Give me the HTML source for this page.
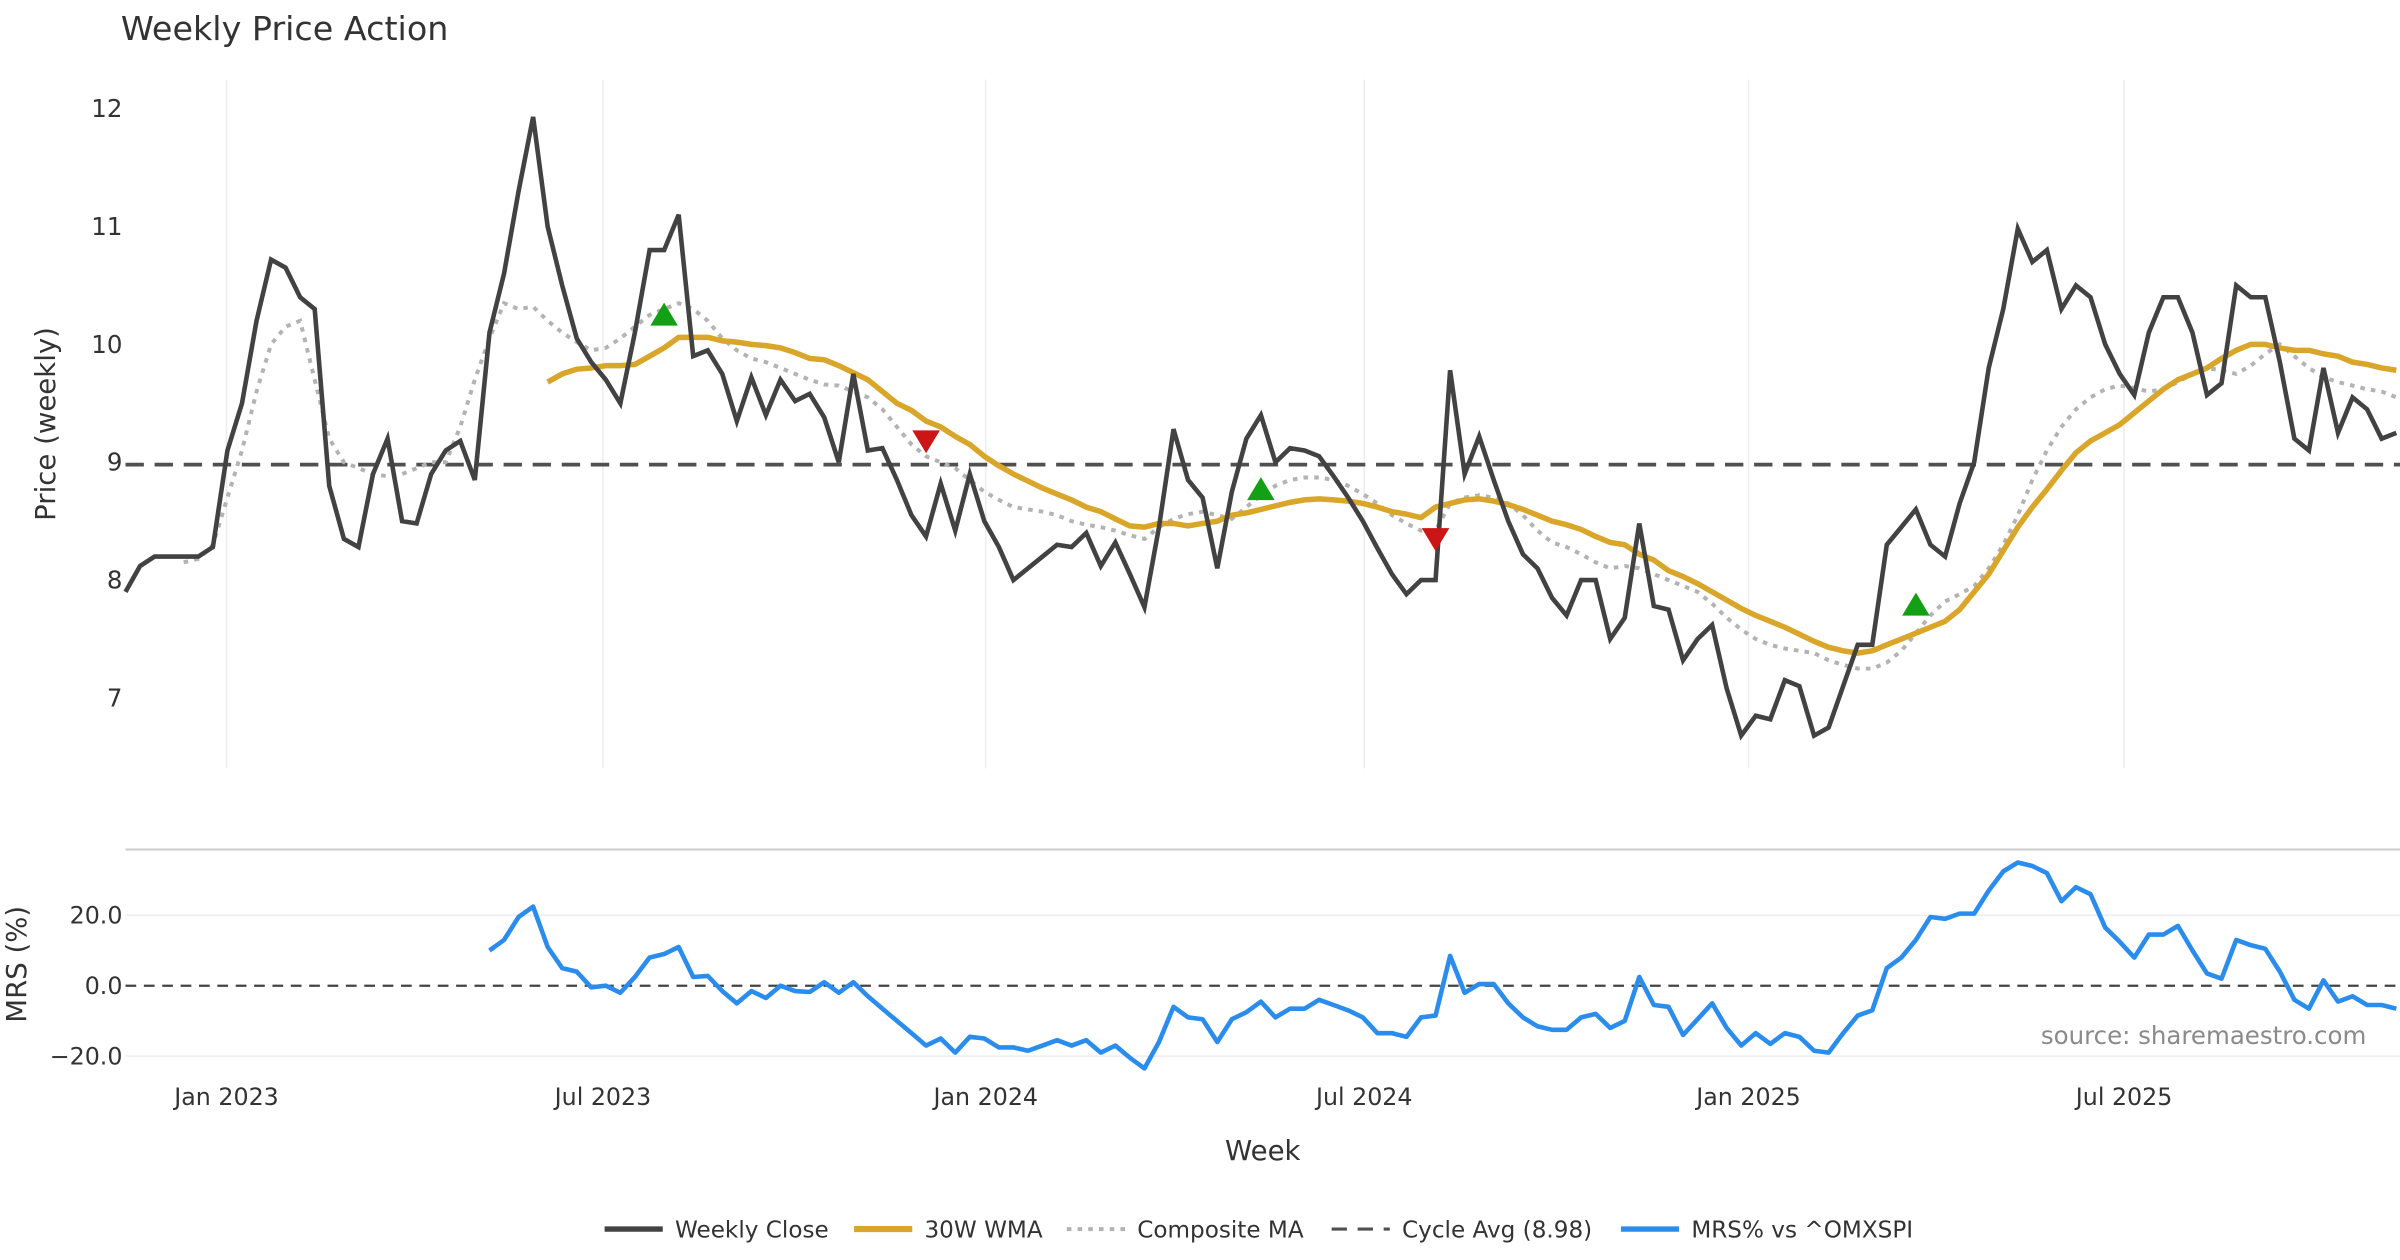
<!DOCTYPE html>
<html><head><meta charset="utf-8"><style>
html,body{margin:0;padding:0;background:#fff;}
svg{display:block;font-family:"DejaVu Sans","Liberation Sans",sans-serif;}
</style></head><body>
<svg id="chart" width="2400" height="1260" viewBox="0 0 1568 823.2" xmlns="http://www.w3.org/2000/svg">
<text x="79" y="26" font-size="21.8" fill="#333">Weekly Price Action</text>
<g id="grid"></g>
<g id="series"></g>
<g id="axes"></g>
</svg>
<script>
const closeVals=[7.9,8.12,8.2,8.2,8.2,8.2,8.28,9.1,9.5,10.2,10.72,10.65,10.4,10.3,8.8,8.35,8.28,8.9,9.2,8.5,8.48,8.9,9.1,9.18,8.85,10.1,10.6,11.3,11.93,
11.0,10.5,10.05,9.85,9.7,9.5,10.1,10.8,10.8,11.1,
9.9,9.95,9.75,9.35,9.72,9.4,9.7,9.52,9.58,9.38,
9.0,9.75,9.1,9.12,8.85,8.55,8.37,8.82,8.42,8.9,
8.5,8.28,8.0,8.1,8.2,8.3,8.28,8.4,8.12,8.32,
8.05,7.77,8.45,9.28,8.85,8.7,8.1,8.75,9.2,9.4,
9.0,9.12,9.1,9.05,8.88,8.7,8.5,8.27,8.05,7.88,
8.0,8.0,9.78,8.9,9.22,8.85,8.5,8.22,8.1,7.85,
7.7,8.0,8.0,7.5,7.68,8.48,7.78,7.75,7.32,7.5,
7.62,7.08,6.68,6.85,6.82,7.15,7.1,6.68,6.75,7.1,
7.45,7.45,8.3,8.45,8.6,8.3,8.2,8.65,9.0,9.8,
10.3,10.98,10.7,10.8,10.3,10.5,10.4,10.0,9.75,9.57,
10.1,10.4,10.4,10.1,9.57,9.67,10.5,10.4,10.4,9.85,
9.2,9.1,9.8,9.25,9.55,9.45,9.2,9.25];
const wmaStart=29;
const wmaVals=[9.68,9.75,9.79,9.8,9.82,9.82,9.83,9.9,9.97,10.06,
10.06,10.06,10.03,10.02,10.0,9.99,9.97,9.93,9.88,
9.87,9.82,9.76,9.7,9.6,9.5,9.44,9.35,9.3,9.22,
9.15,9.05,8.97,8.9,8.84,8.78,8.73,8.68,8.62,8.58,
8.52,8.46,8.45,8.48,8.48,8.46,8.48,8.5,8.55,
8.57,8.6,8.63,8.66,8.68,8.69,8.68,8.67,8.65,8.62,
8.58,8.56,8.53,8.62,8.65,8.68,8.69,8.67,8.64,8.6,
8.55,8.5,8.47,8.43,8.37,8.32,8.3,8.22,8.17,
8.08,8.03,7.97,7.9,7.83,7.76,7.7,7.65,7.6,
7.54,7.48,7.43,7.4,7.38,7.4,7.45,7.5,7.55,7.6,
7.65,7.75,7.9,8.05,8.25,8.45,8.62,8.77,8.93,9.08,
9.18,9.25,9.32,9.42,9.52,9.62,9.7,9.75,9.8,9.88,
9.95,10.0,10.0,9.97,9.95,9.95,9.92,9.9,9.85,9.83,9.8,9.78];
const compStart=4;
const compVals=[8.15,8.18,8.3,8.7,9.1,9.6,10.0,10.15,10.2,9.7,9.2,9.0,8.95,8.9,8.88,8.9,8.95,9.0,9.0,9.3,9.7,10.05,10.35,10.3,10.32,10.2,10.1,10.02,9.95,
9.97,10.05,10.15,10.25,10.3,10.35,
10.3,10.2,10.05,9.95,9.88,9.85,9.8,9.75,9.7,9.66,9.65,9.6,9.55,9.45,9.3,9.15,9.05,9.0,8.95,8.85,8.75,8.68,8.62,8.6,8.58,8.55,8.5,8.47,8.45,8.42,8.38,8.35,
8.45,8.52,8.56,8.58,8.55,8.52,8.62,8.72,8.8,8.85,8.87,8.87,
8.85,8.8,8.73,8.65,8.55,8.48,8.42,8.42,
8.65,8.7,8.72,8.7,8.65,8.55,8.42,8.32,8.28,8.22,8.15,8.1,8.12,8.1,8.05,8.0,7.95,7.9,7.8,7.68,7.58,7.5,7.45,7.42,7.4,7.38,7.32,7.28,7.25,
7.25,7.3,7.4,7.55,7.7,7.82,7.88,7.95,8.1,8.3,8.55,8.85,9.1,9.3,9.45,9.55,9.62,9.65,9.63,9.6,9.62,9.68,9.75,9.8,9.78,9.75,9.82,9.92,10.0,
9.9,9.8,9.72,9.68,9.65,9.62,9.6,9.55];
const cycleAvg=8.98;
const buyIdx=[37,78,123];
const buyVals=[10.25,8.77,7.79];
const sellIdx=[55,90];
const sellVals=[9.18,8.35];
const mrsStart=25;
const mrsVals=[10,13,19.5,22.5,11,5,4,-0.5,0,-2,2.5,8,9,11,2.5,2.8,-1.5,-5,-1.5,-3.5,0,-1.5,-1.8,1,-2,1,-3,-6.5,-10,-13.5,-17,-15,-19,-14.5,-15,-17.5,-17.5,-18.5,-17,-15.5,-17,-15.5,-19,-17,-20.5,-23.5,-16,-6,-9,-9.5,-16,-9.5,-7.5,-4.5,-9,-6.5,-6.5,-4,-5.5,-7,-9,-13.5,-13.5,-14.5,-9,-8.5,8.5,-2,0.5,0.5,-5,-9,-11.5,-12.5,-12.5,-9,-8,-12,-10,2.5,-5.5,-6,-14,-9.5,-5,-12,-17,-13.5,-16.5,-13.5,-14.5,-18.5,-19,-13.5,-8.5,-7,5,8,13,19.5,19,20.5,20.5,27,32.5,35,34,32,24,28,26,16.5,12.5,8,14.5,14.5,17,10,3.5,2,13,11.5,10.5,4,-4,-6.5,1.5,-4.5,-3,-5.5,-5.5,-6.5];
const priceTicks=[7,8,9,10,11,12];
const mrsTicks=[-20,0,20];
const mrsTickLabels=["\u221220.0","0.0","20.0"];
const dateTickIdx=[6.94,32.8,59.1,85.1,111.5,137.3];
const dateTickLabels=["Jan 2023","Jul 2023","Jan 2024","Jul 2024","Jan 2025","Jul 2025"];

const NS="http://www.w3.org/2000/svg";
const X0=82,STEP=9.51;
function xS(i){return X0+i*STEP;}
function yP(v){return 71+(12-v)*77;}
function yM(v){return 644-v*2.3;}
function mk(tag,attrs,parent){const e=document.createElementNS(NS,tag);for(const k in attrs)e.setAttribute(k,attrs[k]);parent.appendChild(e);return e;}
const grid=document.getElementById('grid'),series=document.getElementById('series'),axes=document.getElementById('axes');

dateTickIdx.forEach((t,k)=>{
  const l=mk('line',{x1:xS(t),x2:xS(t),y1:52,y2:502,stroke:'#ebedf0','stroke-width':1},grid);
  
  
  const tx=mk('text',{x:xS(t),y:722,'font-size':15.5,fill:'#333','text-anchor':'middle'},axes);
  tx.textContent=dateTickLabels[k];
  
  
});
priceTicks.forEach(v=>{
  const tx=mk('text',{x:80,y:yP(v)+5.5,'font-size':16,fill:'#333','text-anchor':'end'},axes);
  tx.textContent=v;
  
  
});
const sep=mk('line',{x1:82,x2:1568,y1:555,y2:555,stroke:'#ccc','stroke-width':1.3},grid);


mrsTicks.forEach((v,k)=>{
  if(v!==0){const g=mk('line',{x1:82,x2:1568,y1:yM(v),y2:yM(v),stroke:'#eceef2','stroke-width':1},grid);
  
  }
  const tx=mk('text',{x:80,y:yM(v)+5.5,'font-size':15.5,fill:'#333','text-anchor':'end'},axes);
  tx.textContent=mrsTickLabels[k];
  
  
});
const z=mk('line',{x1:82,x2:1568,y1:yM(0),y2:yM(0),stroke:'#444','stroke-width':1.5,'stroke-dasharray':'7,5'},grid);


const ca=mk('line',{x1:82,x2:1568,y1:yP(cycleAvg),y2:yP(cycleAvg),stroke:'#505050','stroke-width':2.5,'stroke-dasharray':'12,7'},series);



function pts(vals,start,yf){return vals.map((v,i)=>xS(start+i).toFixed(1)+','+yf(v).toFixed(1)).join(' ');}
const comp=mk('polyline',{points:pts(compVals,compStart,yP),fill:'none',stroke:'#b3b3b3','stroke-width':2.6,'stroke-dasharray':'3,4'},series);


const wma=mk('polyline',{points:pts(wmaVals,wmaStart,yP),fill:'none',stroke:'#d9a62a','stroke-width':3.6,'stroke-linejoin':'round'},series);


const cl=mk('polyline',{points:pts(closeVals,0,yP),fill:'none',stroke:'#424242','stroke-width':3,'stroke-linejoin':'miter'},series);


buyIdx.forEach((ix,k)=>{const x=xS(ix),y=yP(buyVals[k]);
  const p=mk('polygon',{points:`${x-9},${y+7} ${x+9},${y+7} ${x},${y-8}`,fill:'#14a014'},series);
  
  });
sellIdx.forEach((ix,k)=>{const x=xS(ix),y=yP(sellVals[k]);
  const p=mk('polygon',{points:`${x-9},${y-7} ${x+9},${y-7} ${x},${y+8}`,fill:'#cc1515'},series);
  
  });
const mrs=mk('polyline',{points:pts(mrsVals,mrsStart,yM),fill:'none',stroke:'#2a8ded','stroke-width':3,'stroke-linejoin':'round'},series);


</script>
<svg style="position:absolute;left:0;top:0" width="2400" height="1260" viewBox="0 0 1568 823.2" xmlns="http://www.w3.org/2000/svg" font-family="DejaVu Sans, Liberation Sans, sans-serif">
<text transform="translate(36,277) rotate(-90)" text-anchor="middle" font-size="18" fill="#333">Price (weekly)</text>
<text transform="translate(17,630) rotate(-90)" text-anchor="middle" font-size="18" fill="#333">MRS (%)</text>
<text x="825" y="758" text-anchor="middle" font-size="18" fill="#333">Week</text>
<text x="1546" y="682" text-anchor="end" font-size="16" fill="#8a8a8a">source: sharemaestro.com</text>
<g font-size="15.1" fill="#333">
<g><line x1="395" x2="433" y1="803" y2="803" stroke="#424242" stroke-width="3.5"/><text x="441" y="808.5">Weekly Close</text></g>
<g><line x1="558" x2="596" y1="803" y2="803" stroke="#d9a62a" stroke-width="4"/><text x="604" y="808.5">30W WMA</text></g>
<g><line x1="697" x2="735" y1="803" y2="803" stroke="#b3b3b3" stroke-width="2.6" stroke-dasharray="3,4"/><text x="743" y="808.5">Composite MA</text></g>
<g><line x1="870" x2="908" y1="803" y2="803" stroke="#505050" stroke-width="2" stroke-dasharray="10,7"/><text x="916" y="808.5">Cycle Avg (8.98)</text></g>
<g><line x1="1059" x2="1097" y1="803" y2="803" stroke="#2a8ded" stroke-width="3.5"/><text x="1105" y="808.5">MRS% vs ^OMXSPI</text></g>
</g>
</svg>
</body></html>
